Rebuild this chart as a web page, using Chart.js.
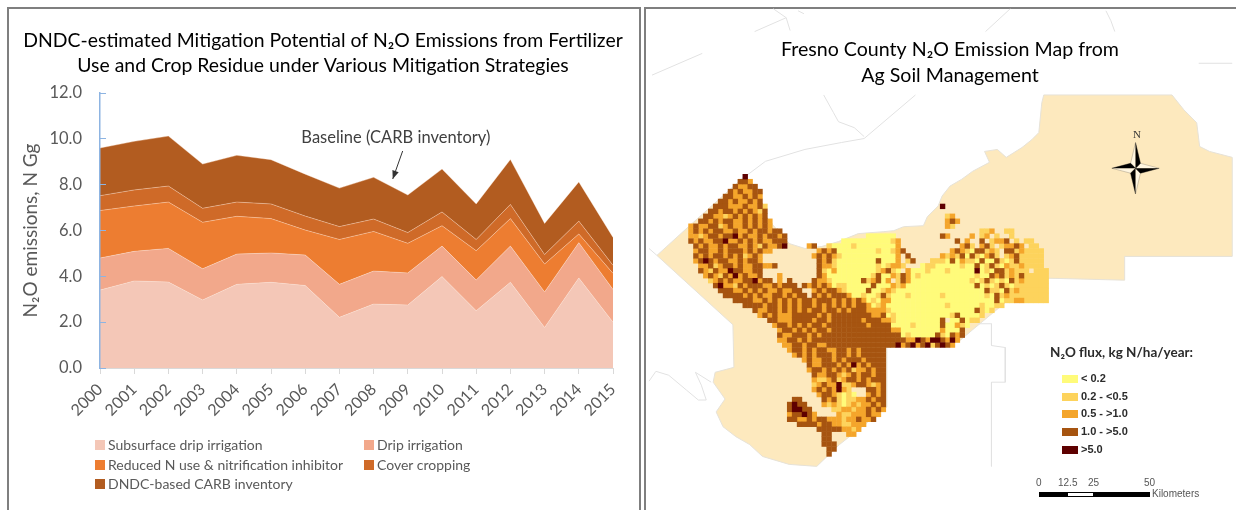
<!DOCTYPE html>
<html><head><meta charset="utf-8">
<script src="https://cdn.jsdelivr.net/npm/chart.js@4"></script>
<style>
html,body{margin:0;padding:0;background:#fff;width:1236px;height:510px;overflow:hidden;font-family:Lato,sans-serif}
.abs{position:absolute}
#frameL{left:7px;top:7px;width:630px;height:520px;border:2px solid #7f7f7f;box-sizing:content-box}
#frameR{left:644px;top:7px;width:620px;height:520px;border:2px solid #7f7f7f}
#cL{left:0;top:0}
#cR{left:646px;top:0;filter:blur(.5px)}
.lg{font:14px Lato,sans-serif;color:#595959;white-space:nowrap}
.sw{width:10px;height:10px}
.fl{font:bold 11px "Liberation Sans",sans-serif;color:#2b2b2b;white-space:nowrap}
.sc{font:10px "Liberation Sans",sans-serif;color:#555;white-space:nowrap}
</style></head><body>
<div id="frameL" class="abs"></div>
<div id="frameR" class="abs"></div>
<canvas id="cL" class="abs" width="646" height="510" style="width:646px;height:510px"></canvas>
<canvas id="cR" class="abs" width="608" height="510" style="width:608px;height:510px"></canvas>
<div id="overlay"></div>
<script>
const years=['2000','2001','2002','2003','2004','2005','2006','2007','2008','2009','2010','2011','2012','2013','2014','2015'];
const seriesNames=['Subsurface drip irrigation','Drip irrigation','Reduced N use & nitrification inhibitor','Cover cropping','DNDC-based CARB inventory'];
const seriesColors=['#F4C7B7','#F2A88B','#ED7D31','#CF6A28','#B25C20'];
const subsurface=[3.40,3.80,3.75,2.97,3.65,3.74,3.60,2.21,2.79,2.75,3.99,2.50,3.74,1.77,3.93,2.00];
const drip=[1.40,1.29,1.47,1.36,1.32,1.28,1.33,1.44,1.44,1.40,1.33,1.34,1.58,1.55,1.54,1.43];
const reducedN=[2.07,1.98,2.02,2.03,1.65,1.50,1.09,1.96,1.73,1.29,0.89,1.28,1.20,1.22,0.38,0.70];
const coverCrop=[0.65,0.70,0.70,0.61,0.62,0.64,0.61,0.56,0.54,0.47,0.60,0.49,0.62,0.41,0.56,0.35];
const carb=[2.08,2.12,2.18,1.93,2.04,1.93,1.83,1.68,1.82,1.64,1.87,1.55,1.96,1.36,1.71,1.22];
const seriesValues=[subsurface,drip,reducedN,coverCrop,carb];
const baselineLabel='Baseline (CARB inventory)';
const baselineText=[8.65,10.03];
const baselineArrow=[[8.85,9.47],[8.56,8.25]];

const countyOutline=[[742,177],[685,228],[653,257],[730,327],[731,370],[712,375],[710,385],[722,402],[713,415],[720,430],[733,440],[747,448],[760,460],[787,468],[815,470],[838,448],[886,410],[886,350],[960,343],[973,332],[1008,303],[1047,303],[1048,280],[1127,282],[1127,258],[1236,258],[1236,158],[1213,152],[1203,147],[1200,123],[1187,110],[1175,95],[1045,95],[1043,103],[1040,133],[1033,140],[1023,148],[1007,158],[998,150],[985,152],[990,163],[973,172],[962,180],[950,187],[942,197],[938,207],[927,218],[923,227],[903,228],[893,232],[883,233],[857,235],[837,243],[820,248],[803,250],[787,245],[765,220],[757,197],[742,177]];
const boundaryLines=[
 [[822,95],[832,113],[837,122],[853,128],[863,137]],
 [[915,95],[863,139],[840,143],[803,150],[763,162],[743,177]],
 [[645,384],[652,374],[665,378],[683,393],[695,403],[703,403],[698,388],[692,375],[708,385]],
 [[978,326],[992,326],[992,348],[1006,350],[1006,385],[992,385],[992,470]],
 [[771,8],[784,17],[788,30]],[[796,10],[802,13]],[[752,31],[784,17]],[[1011,8],[986,31]],
 [[1108,10],[1113,20],[1117,31]],[[648,75],[699,53]],[[1202,63],[1236,63]],[[645,250],[653,257]]
];
const compassDark=[[[1138,143],[1143,164],[1138,169]],[[1162,169],[1143,174],[1138,169]],[[1138,195],[1133,174],[1138,169]],[[1114,169],[1133,164],[1138,169]]];
const compassLight=[[[1138,143],[1133,164],[1138,169]],[[1162,169],[1143,164],[1138,169]],[[1138,195],[1143,174],[1138,169]],[[1114,169],[1133,174],[1138,169]]];

const fluxClasses=['< 0.2','0.2 - <0.5','0.5 - >1.0','1.0 - >5.0','>5.0'];
const fluxColors=['#FFFB7A','#FDD35C','#F4A52B','#A65410','#5E0000'];
const gridStartX=680, gridStartY=175, gridCell=5;
// one row per 5 map units going south; "column:classes" runs of estimated flux class
const fluxRows=[
"12:5","11:443","10:43344","9:4343344","8:44334343","7:443433434",
"6:44433343342 52:5","5:443443434324","4:4433234343434 53:23","3:443434433434343 53:343",
"1:34334423433434343 53:32",
"1:3434344334334344344 60:22 62:3 65:22",
"1:33234434453433434434 37:111111 52:43 58:3 60:23 63:2 66:2",
"1:43433445334343433444 32:1111111111 42:23 55:4 57:3 60:4 62:23 64:34 67:2 69:22",
"2:4343343443343243345 25:34 29:2 30:111121111111 42:13 56:34 58:2 60:34 62:2 64:23 66:3 67:4 68:3 70:22",
"2:3443343444343433 27:3434 31:11111111211 42:23 44:4 54:34 56:321 59:44 61:23 63:2 65:4 66:42 68:3 69:2 70:22 72:2",
"2:43434434342343 26:3 27:434 30:321111111111 42:13 45:4 52:32 54:3 55:2 56:41 58:42 60:1 61:3 62:4 63:2 65:23 67:42 69:22 71:22",
"2:34543443343443 27:4 28:34 30:2111111114111 43:3 45:24 50:22 52:21 54:4 55:1 56:3 57:2 58:21 60:41 62:1 63:4 64:2 65:1 66:24 68:2 69:22 71:22",
"3:3342344343344334 27:43 29:3 30:21111111121 41:23 43:32 48:12 50:211 53:1 54:11 56:21 58:1 59:4 60:12 62:4 63:21 65:3 66:2 67:2 68:3 69:22 71:22",
"3:4324335443344 27:42 29:1 30:311111111 39:23 41:42 43:1 45:3 46:11 48:121 51:11 53:21 55:111 58:15 60:1 61:21 63:44 65:2 66:3 67:2 68:22 71:222",
"4:343243534334 19:3 27:4 28:3 29:11111111124 40:11 42:3 43:24 45:3 46:1211111 53:11111 58:1 59:2 60:11 62:43 64:4 65:2 66:3 67:2 68:4 69:22 71:222",
"5:2343433445344 19:3 21:4 26:4 27:33 29:2111111 36:4 37:2 38:34 40:1 41:3 43:24 45:3 46:1 47:1111111111 57:12 59:12 61:4 62:2 63:1 64:2 65:1 66:42 68:3 69:222 72:22",
"6:45332434443343444 24:434 27:3 28:43 30:12211111411 41:13 43:2 44:3 45:1 46:1111111111111 59:4 60:1 61:2 62:12 64:4 65:2 66:1 67:2 68:222222",
"7:44433434343343344 26:34344 31:3211114112 41:3 42:2 43:11111111111111111 60:14 62:22 64:1 65:42 67:3 68:222222",
"8:44443434334434344 26:434344 32:4311211 39:24 41:2 42:1112111111211111111 61:2 62:14 64:2 65:3 66:22 68:222222",
"10:444433434343434434443 31:4343431 38:21 40:33 42:11111111111111111111 62:14 64:1 65:2 66:2 67:3 68:3 69:22222",
"12:44443 17:4434343443434343434 36:431 39:2 40:31 42:11111111111211111 59:12 61:11 63:22",
"14:43 16:3443434343443443 32:4344 36:43 38:33 40:32 42:1111111111111 55:1111 59:4 60:21 62:2",
"15:34 17:34333444 25:4434 29:344444 35:44 37:43 39:34 41:1211111111 51:111 54:2 55:4 56:111 59:1 60:2",
"17:4433344 24:4434 28:4344 32:444434 38:44 40:33 42:2111111111 52:4 54:11 56:4 57:12 59:2",
"18:344343 24:4 25:34 27:434 30:44444 35:443 38:4444 42:1111211111 52:4 53:11 55:3 56:21",
"19:34 21:43 23:43 25:434 28:43 30:444 33:4444 37:44444 42:331111111 51:1 52:3 53:1 54:11 56:4",
"19:43 21:344 24:43 26:434 29:44 31:44444 36:444444 42:44 44:1211 48:111 51:42 53:14 55:3 56:4",
"19:3 20:34 22:4 23:34 25:34 27:44 29:44444 34:44444 39:44444 44:43 46:35 48:4 49:35 51:54 53:3 54:5 55:3",
"20:3 21:34 23:4 24:34 26:43 28:3444 32:44444 37:44444 42:4534 46:53 48:4 49:5 50:2 51:45 53:4 54:3",
"21:34434344334434344444",
"22:3434344434434344444",
"24:34334434344434444",
"25:4334443435343444",
"25:3443434342334344",
"26:433443234344344",
"26:322342344343444",
"26:234335223443234",
"26:34343532 37:4434",
"27:3443212 34:1 37:3434",
"22:44 28:4342122 35:3 36:34344",
"21:4544 28:3232123 35:233434",
"21:45544 30:22332334343",
"21:34454 26:3 31:322333433",
"21:443 24:343 27:44 29:3332334334",
"23:44443 28:4433223 35:33",
"27:44444 32:3323",
"28:44 33:33",
"28:44",
"28:444",
"29:44",
"29:4"
];
function fluxPoints(cls){
  const pts=[];
  fluxRows.forEach((row,r)=>row.split(' ').forEach(run=>{
    const [col,cells]=run.split(':');
    [...cells].forEach((ch,i)=>{ if(+ch===cls+1) pts.push({x:gridStartX+gridCell*(+col+i+0.5),y:gridStartY+gridCell*(r+0.5)}); });
  }));
  return pts;
}
const toXY=a=>a.map(p=>({x:p[0],y:p[1]}));
const noPlugins={tooltip:{enabled:false},legend:{display:false}};

const annot={id:'annot',afterDraw(c){
  const x=c.scales.x,y=c.scales.y,g=c.ctx;
  g.save();
  g.fillStyle='#404040';g.font='16.5px Lato';g.textAlign='center';g.textBaseline='middle';
  g.fillText(baselineLabel,x.getPixelForValue(baselineText[0]),y.getPixelForValue(baselineText[1]));
  const ax=x.getPixelForValue(baselineArrow[0][0]),ay=y.getPixelForValue(baselineArrow[0][1]);
  const bx=x.getPixelForValue(baselineArrow[1][0]),by=y.getPixelForValue(baselineArrow[1][1]);
  g.strokeStyle='#333';g.lineWidth=1;g.beginPath();g.moveTo(ax,ay);g.lineTo(bx,by);g.stroke();
  const t=Math.atan2(by-ay,bx-ax);g.fillStyle='#333';g.beginPath();g.moveTo(bx,by);
  g.lineTo(bx-9*Math.cos(t-.38),by-9*Math.sin(t-.38));g.lineTo(bx-9*Math.cos(t+.38),by-9*Math.sin(t+.38));g.closePath();g.fill();
  g.restore();
}};

new Chart(document.getElementById('cL'),{
  type:'line',
  plugins:[annot],
  data:{labels:years,datasets:seriesValues.map((v,i)=>({label:seriesNames[i],data:v,backgroundColor:seriesColors[i],
    borderColor:'rgba(255,235,220,.45)',borderWidth:.8,fill:i===0?'origin':'-1',pointRadius:0,tension:0}))},
  options:{responsive:false,animation:false,
    layout:{padding:0},
    plugins:{...noPlugins,title:{display:true,color:'#000',
      text:['DNDC-estimated Mitigation Potential of N₂O Emissions from Fertilizer','Use and Crop Residue under Various Mitigation Strategies'],
      font:{family:'Lato',size:19.4,weight:'normal',lineHeight:1.289},padding:{top:28,bottom:15}}},
    scales:{
      x:{stacked:true,offset:false,afterFit(s){s.height=142;},
        grid:{drawOnChartArea:false,color:'#d9d9d9',tickLength:6},border:{color:'#d9d9d9'},
        ticks:{color:'#595959',font:{family:'Lato',size:16},minRotation:45,maxRotation:45,autoSkip:false,padding:6}},
      y:{stacked:true,min:0,max:12,afterFit(s){s.width=100;},
        grid:{drawOnChartArea:false,color:'#8db4e2',tickLength:-6,z:1},border:{color:'#8db4e2',width:1.5,z:1},
        title:{display:true,text:'N₂O emissions, N Gg',color:'#595959',font:{family:'Lato',size:19},padding:{top:19,bottom:0}},
        ticks:{stepSize:2,color:'#595959',font:{family:'Lato',size:16.5},padding:24,callback:v=>v.toFixed(1)}},
      rightMargin:{position:'right',afterFit(s){s.width=33;},grid:{drawOnChartArea:false,drawTicks:false},border:{display:false},ticks:{display:false}}
    }}
});

const line=(pts,o)=>Object.assign({data:toXY(pts),showLine:true,pointRadius:0,tension:0,clip:false,fill:false,borderWidth:1,borderColor:'#e2e2e2'},o);
const mapSets=[];
compassDark.forEach(t=>mapSets.push(line(t,{fill:'shape',backgroundColor:'#000',borderColor:'#000',borderWidth:.4})));
compassLight.forEach(t=>mapSets.push(line(t,{fill:'shape',backgroundColor:'#fff6e0',borderColor:'#8a8070',borderWidth:.4})));
[4,3,2,1,0].forEach(k=>mapSets.push({type:'scatter',label:fluxClasses[k],data:fluxPoints(k),pointStyle:'rect',pointRadius:3.8,pointBorderWidth:0,borderWidth:0,pointBorderColor:'rgba(0,0,0,0)',backgroundColor:fluxColors[k],clip:false}));
boundaryLines.forEach(b=>mapSets.push(line(b,{})));
mapSets.push(line(countyOutline,{fill:'shape',backgroundColor:'#FDE9BE',borderColor:'#e6e2d8',borderWidth:1}));
new Chart(document.getElementById('cR'),{
  type:'scatter',
  data:{datasets:mapSets},
  options:{responsive:false,animation:false,
    plugins:{...noPlugins,title:{display:true,color:'#000',text:['Fresno County N₂O Emission Map from','Ag Soil Management'],
      font:{family:'Lato',size:19.6,weight:'normal',lineHeight:1.327},padding:{top:37,bottom:0}}},
    scales:{x:{type:'linear',display:false,min:646,max:1254},y:{type:'linear',display:false,reverse:true,min:89,max:510}}
  }
});

const ov=document.getElementById('overlay');
function add(cls,style,text){const d=document.createElement('div');d.className='abs '+cls;Object.assign(d.style,style);if(text!==undefined)d.textContent=text;ov.appendChild(d);return d;}
const lgPos=[[95,440],[364,440],[95,460],[364,460],[95,479]];
seriesNames.forEach((n,i)=>{
  add('sw',{left:lgPos[i][0]+'px',top:lgPos[i][1]+'px',background:seriesColors[i]});
  add('lg',{left:lgPos[i][0]+13+'px',top:lgPos[i][1]-4+'px'},n);
});
add('fl',{left:'1050px',top:'344px',font:'bold 13.5px Lato'},'N₂O flux,  kg N/ha/year:');
fluxClasses.forEach((n,i)=>{
  const y=375+i*17.7;
  add('sw',{left:'1062px',top:y+'px',width:'16px',height:'8px',background:fluxColors[i]});
  add('fl',{left:'1081px',top:y-3+'px'},n);
});
add('sc',{left:'1133px',top:'128px',font:'11px "Liberation Serif"',color:'#333'},'N');
[['0',1036],['12.5',1058],['25',1088],['50',1144]].forEach(s=>add('sc',{left:s[1]+'px',top:'477px'},s[0]));
[[1039,28,'#000'],[1067,27,'#fff'],[1094,56,'#000']].forEach(b=>add('',{left:b[0]+'px',top:'492px',width:b[1]+'px',height:'5px',background:b[2],border:'1px solid #000',boxSizing:'border-box'}));
add('sc',{left:'1152px',top:'488px'},'Kilometers');
</script>
</body></html>
